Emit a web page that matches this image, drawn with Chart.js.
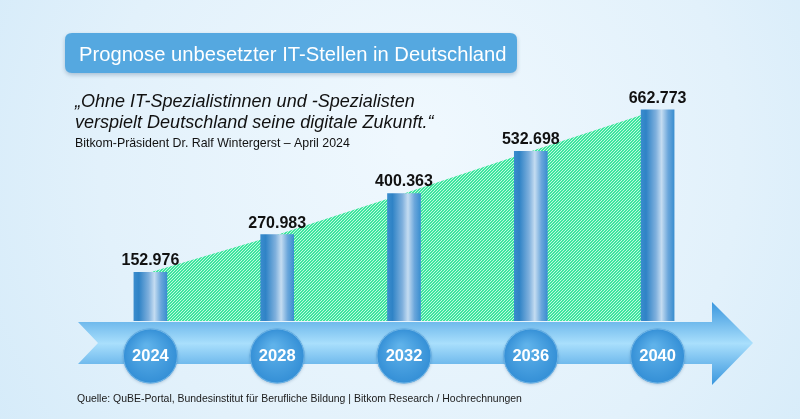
<!DOCTYPE html>
<html>
<head>
<meta charset="utf-8">
<script src="https://cdn.jsdelivr.net/npm/chart.js@4/dist/chart.umd.min.js"></script>
<style>
  html, body { margin: 0; padding: 0; background: #e3f2fc; }
  #c { display: block; }
</style>
</head>
<body>
<canvas id="c" width="800" height="419"></canvas>
<script>
// ---- data ----
const categories = ['2024', '2028', '2032', '2036', '2040'];
const openPositions = [152976, 270983, 400363, 532698, 662773];
const titleText = 'Prognose unbesetzter IT-Stellen in Deutschland';
const quoteLines = ['\u201EOhne IT-Spezialistinnen und -Spezialisten', 'verspielt Deutschland seine digitale Zukunft.\u201C'];
const quoteAuthor = 'Bitkom-Pr\u00E4sident Dr. Ralf Wintergerst \u2013 April 2024';
const sourceText = 'Quelle: QuBE-Portal, Bundesinstitut f\u00FCr Berufliche Bildung | Bitkom Research / Hochrechnungen';

const FONT = '"Liberation Sans", Arial, Helvetica, sans-serif';

function fmtDE(v) {
  return String(Math.round(v)).replace(/\B(?=(\d{3})+(?!\d))/g, '.');
}

function roundRect(ctx, x, y, w, h, r) {
  ctx.beginPath();
  ctx.moveTo(x + r, y);
  ctx.lineTo(x + w - r, y);
  ctx.quadraticCurveTo(x + w, y, x + w, y + r);
  ctx.lineTo(x + w, y + h - r);
  ctx.quadraticCurveTo(x + w, y + h, x + w - r, y + h);
  ctx.lineTo(x + r, y + h);
  ctx.quadraticCurveTo(x, y + h, x, y + h - r);
  ctx.lineTo(x, y + r);
  ctx.quadraticCurveTo(x, y, x + r, y);
  ctx.closePath();
}

// draw text with a font size chosen so the text spans the given width
function fitText(ctx, text, x, y, width, style) {
  ctx.font = style + ' 20px ' + FONT;
  const w = ctx.measureText(text).width;
  const size = 20 * width / w;
  ctx.font = style + ' ' + size.toFixed(2) + 'px ' + FONT;
  ctx.fillText(text, x, y);
}

// hatched green pattern
function makeHatch() {
  const p = document.createElement('canvas');
  p.width = 3; p.height = 3;
  const g = p.getContext('2d');
  const img = g.createImageData(3, 3);
  for (let y = 0; y < 3; y++) {
    for (let x = 0; x < 3; x++) {
      const k = (y * 3 + x) * 4;
      const light = (x + y) % 3 === 0;
      img.data[k] = light ? 196 : 60;
      img.data[k + 1] = light ? 247 : 230;
      img.data[k + 2] = light ? 224 : 158;
      img.data[k + 3] = 255;
    }
  }
  g.putImageData(img, 0, 0);
  return ctx.createPattern(p, 'repeat');
}

const backgroundPlugin = {
  id: 'bg',
  beforeDraw(chart) {
    const ctx = chart.ctx;
    const W = chart.width, H = chart.height;
    ctx.save();
    const g = ctx.createRadialGradient(420, 140, 20, 420, 180, 520);
    g.addColorStop(0, '#eff8fe');
    g.addColorStop(0.6, '#e2f1fb');
    g.addColorStop(1, '#d3eaf9');
    ctx.fillStyle = g;
    ctx.fillRect(0, 0, W, H);

    // title box
    ctx.save();
    ctx.shadowColor = 'rgba(40,80,120,0.30)';
    ctx.shadowBlur = 4;
    ctx.shadowOffsetY = 2;
    roundRect(ctx, 65, 33, 452, 40, 7);
    ctx.fillStyle = '#55a8e0';
    ctx.fill();
    ctx.restore();
    ctx.fillStyle = '#ffffff';
    ctx.textBaseline = 'alphabetic';
    ctx.textAlign = 'left';
    fitText(ctx, titleText, 79, 61, 428, 'normal');

    // quote
    ctx.fillStyle = '#111111';
    fitText(ctx, quoteLines[0], 75, 107, 340, 'italic');
    const qf = ctx.font;
    ctx.font = qf;
    ctx.fillText(quoteLines[1], 75, 128);
    fitText(ctx, quoteAuthor, 75, 147, 275, 'normal');

    // source
    ctx.fillStyle = '#1a1a1a';
    fitText(ctx, sourceText, 77, 402, 445, 'normal');
    ctx.restore();
  }
};

const overlayPlugin = {
  id: 'overlay',
  afterDatasetsDraw(chart) {
    const ctx = chart.ctx;
    const xs = chart.scales.x;
    ctx.save();
    // arrow band
    const top = 322, bot = 364, mid = 343;
    const g = ctx.createLinearGradient(0, 302, 0, 385);
    g.addColorStop(0, '#3a97de');
    g.addColorStop(0.24, '#6fb9ec');
    g.addColorStop(0.5, '#a9dffc');
    g.addColorStop(0.76, '#6db8ec');
    g.addColorStop(1, '#3a97de');
    ctx.beginPath();
    ctx.moveTo(78, top);
    ctx.lineTo(712, top);
    ctx.lineTo(712, 302);
    ctx.lineTo(753, mid);
    ctx.lineTo(712, 385);
    ctx.lineTo(712, bot);
    ctx.lineTo(78, bot);
    ctx.lineTo(98, mid);
    ctx.closePath();
    ctx.fillStyle = g;
    ctx.fill();

    // circles with years (x tick labels)
    categories.forEach((lab, i) => {
      const x = xs.getPixelForValue(i);
      const y = 356, r = 27.5;
      ctx.save();
      ctx.shadowColor = 'rgba(20,70,120,0.25)';
      ctx.shadowBlur = 3;
      ctx.shadowOffsetY = 1;
      const rg = ctx.createRadialGradient(x - 4, y - 10, 2, x, y, r);
      rg.addColorStop(0, '#5fb2ea');
      rg.addColorStop(1, '#348fd6');
      ctx.beginPath();
      ctx.arc(x, y, r, 0, Math.PI * 2);
      ctx.fillStyle = rg;
      ctx.fill();
      ctx.restore();
      ctx.beginPath();
      ctx.arc(x, y, r - 0.5, 0, Math.PI * 2);
      ctx.strokeStyle = 'rgba(150,205,240,0.6)';
      ctx.lineWidth = 1;
      ctx.stroke();
      ctx.fillStyle = '#ffffff';
      ctx.font = 'bold 16.5px ' + FONT;
      ctx.textAlign = 'center';
      ctx.textBaseline = 'middle';
      ctx.fillText(lab, x, y + 0.5);
    });

    // value labels above bars
    const meta = chart.getDatasetMeta(0);
    ctx.fillStyle = '#111111';
    ctx.font = 'bold 16px ' + FONT;
    ctx.textAlign = 'center';
    ctx.textBaseline = 'alphabetic';
    meta.data.forEach((el, i) => {
      ctx.fillText(fmtDE(openPositions[i]), el.x, el.y - 7);
    });
    ctx.restore();
  }
};

const ctx = document.getElementById('c').getContext('2d');
const hatch = makeHatch();

function barGradient(c) {
  const chart = c.chart;
  const xs = chart.scales && chart.scales.x;
  if (!xs || !chart.chartArea) return '#3a8fd0';
  const x = xs.getPixelForValue(c.dataIndex);
  const g = chart.ctx.createLinearGradient(x - 16.5, 0, x + 16.5, 0);
  g.addColorStop(0, '#3a8ccd');
  g.addColorStop(0.15, '#2f83c6');
  g.addColorStop(0.45, '#7fb0dd');
  g.addColorStop(0.62, '#c4dcf1');
  g.addColorStop(0.82, '#6aa6db');
  g.addColorStop(1, '#3b8fd0');
  return g;
}

new Chart(ctx, {
  data: {
    labels: categories,
    datasets: [
      {
        type: 'bar',
        data: openPositions,
        backgroundColor: barGradient,
        borderWidth: 0,
        barThickness: 33,
        order: 1
      },
      {
        type: 'line',
        data: openPositions,
        fill: 'origin',
        backgroundColor: hatch,
        borderWidth: 0,
        pointRadius: 0,
        tension: 0,
        order: 2
      }
    ]
  },
  options: {
    responsive: false,
    animation: false,
    devicePixelRatio: 1,
    layout: { padding: { left: 87, right: 79, top: 98, bottom: 98 } },
    plugins: {
      legend: { display: false },
      tooltip: { enabled: false },
      title: { display: false }
    },
    scales: {
      x: { type: 'category', display: false, offset: true, grid: { display: false } },
      y: { display: false, min: 0, max: 700000, grid: { display: false } }
    }
  },
  plugins: [backgroundPlugin, overlayPlugin]
});
</script>
</body>
</html>
